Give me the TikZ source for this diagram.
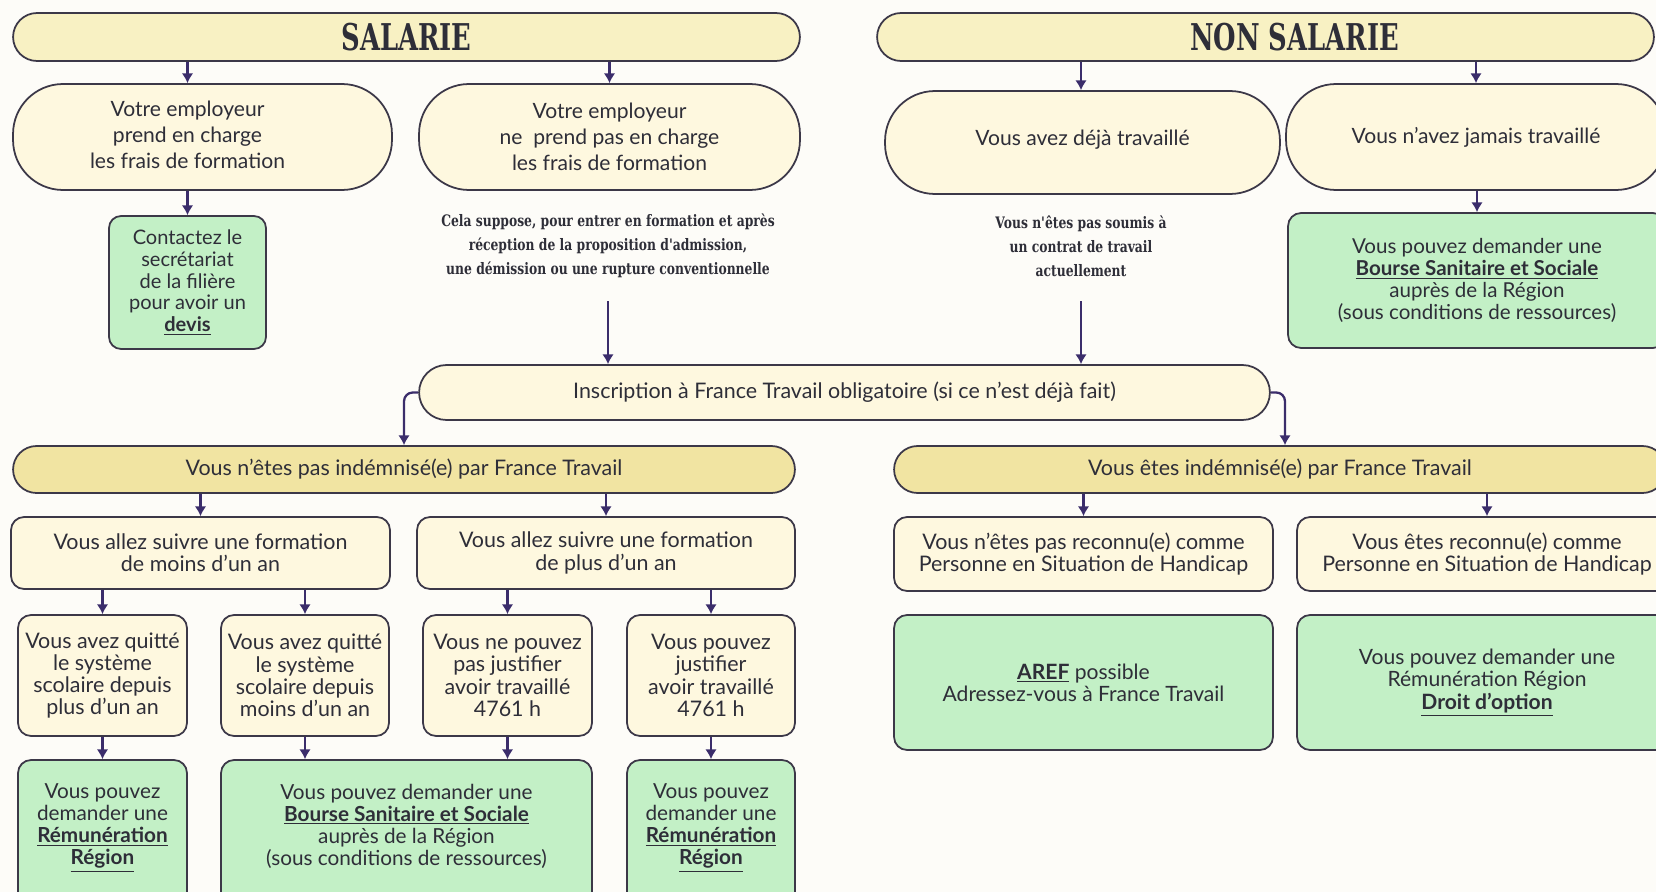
\documentclass[tikz,border=0pt]{standalone}
\usepackage{fontspec}
\setmainfont{Lato}
\newfontfamily\headfont[FakeStretch = 0.7]{DejaVu Serif}
\newfontfamily\notefont[FakeStretch = 0.78]{DejaVu Serif}
\usetikzlibrary{arrows.meta}

\definecolor{paper}{HTML}{FDFCF8}
\definecolor{cream}{HTML}{FEF8DF}
\definecolor{barpale}{HTML}{F8F1C3}
\definecolor{bardeep}{HTML}{F1E4A2}
\definecolor{mint}{HTML}{C3F0C6}
\definecolor{linec}{HTML}{3C3848}
\definecolor{arrowc}{HTML}{3B2D6B}
\definecolor{textc}{HTML}{2E2E38}

\begin{document}
\begin{tikzpicture}[x = 0.02cm, y = -0.02cm, > = {Latex[length = 5.5pt, width = 6.5pt]},
	box/.style = {draw = linec, line width = 1pt, fill = cream, align = center, text = textc,
		inner sep = 2pt, font = \fontsize{12.2}{12.7}\selectfont},
	pill/.style = {box, rounded corners = #1},
	card/.style = {box, rounded corners = 0.26cm},
	green/.style = {card, fill = mint},
	head/.style = {pill = 0.48cm, fill = barpale, minimum height = 0.96cm,
		font = \headfont\bfseries\fontsize{21}{24}\selectfont},
	note/.style = {align = center, text = textc, font = \notefont\bfseries\fontsize{9}{13.6}\selectfont},
	arr/.style = {->, line width = 1.3pt, draw = arrowc}]

	% Page

	\useasboundingbox [fill = paper] (0, 0) rectangle (1656, 892);

	% Top bars

	\node [head, minimum width = 15.74cm] (salarie) at (406.5, 37) {SALARIE};
	\node [head, minimum width = 15.54cm] (nonsal) at (1265.5, 37) {\hspace*{1.16cm}NON SALARIE};

	% Employer / work history

	\node [pill = 1cm, minimum width = 7.58cm, minimum height = 2.12cm, align = left,
		font = \fontsize{12}{14.8}\selectfont] (empA) at (202.5, 137)
		{\begin{tabular}{@{}c@{\hspace{0.6cm}}}Votre employeur\\prend en charge\\les frais de formation\end{tabular}};
	\node [pill = 1cm, minimum width = 7.62cm, minimum height = 2.12cm,
		font = \fontsize{12}{14.8}\selectfont] (empB) at (609.5, 137)
		{Votre employeur\\ne~ prend pas en charge\\les frais de formation};
	\node [pill = 1cm, minimum width = 7.9cm, minimum height = 2.06cm, text depth = 0.2cm,
		font = \fontsize{12}{14.8}\selectfont] (deja) at (1082.5, 142.5)
		{Vous avez déjà travaillé};
	\node [pill = 1cm, minimum width = 7.6cm, minimum height = 2.12cm,
		font = \fontsize{12}{14.8}\selectfont] (jamais) at (1476, 137)
		{Vous n'avez jamais travaillé};

	% Outcomes and remarks

	\node [green, rounded corners = 0.24cm, minimum width = 3.14cm, minimum height = 2.66cm,
		font = \fontsize{11.4}{12.4}\selectfont] (devis) at (187.5, 282.5)
		{Contactez le\\secrétariat\\de la filière\\pour avoir un\\\underline{\textbf{devis}}};
	\node [note] (noteA) at (608, 246)
		{Cela suppose, pour entrer en formation et après\\réception de la proposition d'admission,\\une démission ou une rupture conventionnelle};
	\node [note] (noteB) at (1081, 246)
		{Vous n'êtes pas soumis à\\un contrat de travail\\actuellement};
	\node [green, minimum width = 7.56cm, minimum height = 2.7cm,
		font = \fontsize{11.7}{12.4}\selectfont] (bourseA) at (1477, 280.5)
		{Vous pouvez demander une\\\underline{\textbf{Bourse Sanitaire et Sociale}}\\auprès de la Région\\(sous conditions de ressources)};
	\coordinate (tailA) at (608, 301);
	\coordinate (tailB) at (1081, 301);

	% France Travail

	\node [pill = 0.55cm, minimum width = 17.02cm, minimum height = 1.1cm] (inscr) at (844.5, 392.5)
		{Inscription à France Travail obligatoire (si ce n'est déjà fait)};
	\node [pill = 0.47cm, fill = bardeep, minimum width = 15.64cm, minimum height = 0.94cm] (nonind) at (404, 469.5)
		{Vous n'êtes pas indémnisé(e) par France Travail};
	\node [pill = 0.47cm, fill = bardeep, minimum width = 15.44cm, minimum height = 0.94cm] (ind) at (1280, 469.5)
		{Vous êtes indémnisé(e) par France Travail};

	% Formation length / handicap

	\node [card, minimum width = 7.58cm, minimum height = 1.44cm] (moins) at (200.5, 553)
		{Vous allez suivre une formation\\de moins d'un an};
	\node [card, minimum width = 7.56cm, minimum height = 1.44cm] (plus) at (606, 553)
		{Vous allez suivre une formation\\de plus d'un an};
	\node [card, minimum width = 7.58cm, minimum height = 1.48cm] (nonpsh) at (1083.5, 554)
		{Vous n'êtes pas reconnu(e) comme\\Personne en Situation de Handicap};
	\node [card, minimum width = 7.6cm, minimum height = 1.48cm] (psh) at (1487, 554)
		{Vous êtes reconnu(e) comme\\Personne en Situation de Handicap};

	% Situations

	\node [card, minimum width = 3.38cm, minimum height = 2.42cm] (qa) at (102.5, 675.5)
		{Vous avez quitté\\le système\\scolaire depuis\\plus d'un an};
	\node [card, minimum width = 3.36cm, minimum height = 2.42cm] (qb) at (305, 675.5)
		{Vous avez quitté\\le système\\scolaire depuis\\moins d'un an};
	\node [card, minimum width = 3.38cm, minimum height = 2.42cm] (qc) at (507.5, 675.5)
		{Vous ne pouvez\\pas justifier\\avoir travaillé\\4761 h};
	\node [card, minimum width = 3.36cm, minimum height = 2.42cm] (qd) at (711, 675.5)
		{Vous pouvez\\justifier\\avoir travaillé\\4761 h};
	\node [green, minimum width = 7.58cm, minimum height = 2.7cm, font = \fontsize{12}{12.7}\selectfont] (aref) at (1083.5, 682.5)
		{\underline{\textbf{AREF}} possible\\Adressez-vous à France Travail};
	\node [green, minimum width = 7.6cm, minimum height = 2.7cm, font = \fontsize{12}{12.7}\selectfont] (droit) at (1487, 682.5)
		{Vous pouvez demander une\\Rémunération Région\\\underline{\textbf{Droit d’option}}};

	% Funding

	\node [green, minimum width = 3.38cm, minimum height = 2.9cm, text depth = 0.32cm,
		font = \fontsize{11.8}{12.5}\selectfont] (ga) at (102.5, 832.5)
		{Vous pouvez\\demander une\\\underline{\textbf{Rémunération}}\\\underline{\textbf{Région}}};
	\node [green, minimum width = 7.42cm, minimum height = 2.9cm, text depth = 0.32cm,
		font = \fontsize{11.8}{12.5}\selectfont] (gb) at (406.5, 832.5)
		{Vous pouvez demander une\\\underline{\textbf{Bourse Sanitaire et Sociale}}\\auprès de la Région\\(sous conditions de ressources)};
	\node [green, minimum width = 3.36cm, minimum height = 2.9cm, text depth = 0.32cm,
		font = \fontsize{11.8}{12.5}\selectfont] (gd) at (711, 832.5)
		{Vous pouvez\\demander une\\\underline{\textbf{Rémunération}}\\\underline{\textbf{Région}}};

	% Arrows

	\draw [arr] (salarie.south -| devis) -- (empA.north -| devis);
	\draw [arr] (empA.south -| devis) -- (devis);
	\draw [arr] (salarie.south -| empB) -- (empB);
	\draw [arr] (nonsal.south -| tailB) -- (deja.north -| tailB);
	\draw [arr] (nonsal.south -| jamais) -- (jamais);
	\draw [arr] (jamais.south -| bourseA) -- (bourseA);

	\foreach \t in {tailA, tailB}
		\draw [arr] (\t) -- (\t |- inscr.north);

	\draw [arr, rounded corners = 5pt] (inscr.west) -| (nonind.north);
	\draw [arr, rounded corners = 5pt] (inscr.east) -| ([xshift = 0.1cm] ind.north);

	\foreach \a/\b in {nonind/moins, nonind/plus, ind/nonpsh, ind/psh,
		moins/qa, moins/qb, plus/qc, plus/qd, qa/ga, qd/gd}
		\draw [arr] (\a.south -| \b) -- (\b);

	\foreach \a in {qb, qc}
		\draw [arr] (\a.south) -- (\a.south |- gb.north);

\end{tikzpicture}
\end{document}
